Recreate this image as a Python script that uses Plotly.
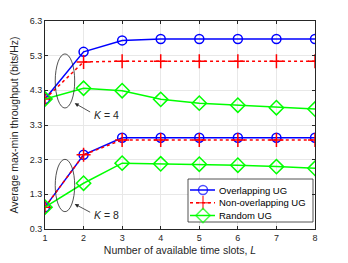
import plotly.graph_objects as go

L = [1, 2, 3, 4, 5, 6, 7, 8]
ov_k4 = [4.05, 5.41, 5.74, 5.78, 5.78, 5.78, 5.78, 5.78]
non_k4 = [4.05, 5.12, 5.14, 5.14, 5.14, 5.14, 5.14, 5.14]
rnd_k4 = [4.05, 4.36, 4.29, 4.04, 3.93, 3.87, 3.80, 3.76]
ov_k8 = [0.93, 2.44, 2.93, 2.93, 2.93, 2.93, 2.93, 2.93]
non_k8 = [0.93, 2.44, 2.87, 2.87, 2.87, 2.87, 2.87, 2.87]
rnd_k8 = [0.93, 1.62, 2.20, 2.18, 2.17, 2.14, 2.10, 2.05]
yticks = [0.3, 1.3, 2.3, 3.3, 4.3, 5.3, 6.3]
names = ["Overlapping UG", "Non-overlapping UG", "Random UG"]

FONT = "Liberation Sans, Arial, Helvetica"
AX = "#262626"
blue, red, green = "#0000FF", "#FF0000", "#00FF00"
styles = [
    dict(color=blue, dash="solid", symbol="circle-open", size=9),
    dict(color=red, dash="dot", symbol="cross-thin-open", size=10),
    dict(color=green, dash="solid", symbol="diamond-open", size=11),
]

fig = go.Figure()
for i, (y4, y8) in enumerate([(ov_k4, ov_k8), (non_k4, non_k8), (rnd_k4, rnd_k8)]):
    s = styles[i]
    for yy in (y4, y8):
        fig.add_trace(go.Scatter(
            x=L, y=yy, mode="lines+markers", name=names[i], showlegend=False,
            line=dict(color=s["color"], width=1.5, dash=s["dash"]),
            marker=dict(symbol=s["symbol"], size=s["size"], color=s["color"],
                        line=dict(color=s["color"], width=1.5)),
        ))

# ellipses around L=1..2
for (y0, y1) in [(3.79, 5.35), (0.80, 2.31)]:
    fig.add_shape(type="circle", xref="x", yref="y", x0=1.265, x1=1.77, y0=y0, y1=y1,
                  line=dict(color=AX, width=0.8))

# K labels with arrows
for txt, hx, hy, tx, ty, lx, ly in [("<i>K</i> = 4", 1.77, 3.93, 2.21, 3.65, 2.23, 3.59),
                                    ("<i>K</i> = 8", 1.77, 1.02, 2.21, 0.76, 2.23, 0.70)]:
    fig.add_annotation(x=hx, y=hy, ax=tx, ay=ty, xref="x", yref="y", axref="x", ayref="y",
                       showarrow=True, arrowhead=2, arrowsize=1, arrowwidth=0.8,
                       arrowcolor=AX, text="")
    fig.add_annotation(x=lx, y=ly, xref="x", yref="y", text=txt, showarrow=False,
                       xanchor="left", yanchor="middle",
                       font=dict(family=FONT, size=10.5, color=AX))

# manual legend on pixel-like overlay axes (x2: 45..315, y2: 229..21)
bx0, bx1, by0, by1 = 188, 313, 179, 222
leg_rows = [190, 202.7, 215.5]
fig.add_trace(go.Scatter(
    x=[bx0, bx1, bx1, bx0, bx0], y=[by0, by0, by1, by1, by0], xaxis="x2", yaxis="y2",
    mode="lines", fill="toself", fillcolor="white", line=dict(color=AX, width=0.8),
    showlegend=False, hoverinfo="skip"))
for i, ry in enumerate(leg_rows):
    s = styles[i]
    fig.add_trace(go.Scatter(
        x=[190, 203, 215], y=[ry, ry, ry], xaxis="x2", yaxis="y2", mode="lines+markers",
        showlegend=False, hoverinfo="skip",
        line=dict(color=s["color"], width=1.5, dash=s["dash"]),
        marker=dict(symbol=s["symbol"], size=[0, s["size"], 0], color=s["color"],
                    line=dict(color=s["color"], width=1.5)),
    ))
    fig.add_annotation(x=217, y=ry, xref="x2", yref="y2", text=names[i], showarrow=False,
                       xanchor="left", yanchor="middle",
                       font=dict(family=FONT, size=9.5, color="#000000"))

axis_common = dict(showline=True, linecolor=AX, linewidth=0.8, mirror="ticks",
                   ticks="inside", ticklen=3, tickcolor=AX, automargin=False,
                   showgrid=True, gridcolor="#E8E8E8", gridwidth=0.8, zeroline=False,
                   tickfont=dict(family=FONT, size=9, color=AX))

# page body has an 8px default margin: figure shrunk by 8px and left/top margins reduced
fig.update_layout(
    width=340, height=255,
    margin=dict(l=37, r=33, t=13, b=34),
    paper_bgcolor="white", plot_bgcolor="white",
    showlegend=False,
    xaxis=dict(range=[1, 8], tickvals=L,
               title=dict(text="Number of available time slots, <i>L</i>", standoff=4,
                          font=dict(family=FONT, size=10.5, color=AX)),
               **axis_common),
    yaxis=dict(range=[0.3, 6.3], tickvals=yticks, ticktext=[f"{v:.1f}" for v in yticks],
               title=dict(text="Average max-min throughput (bits/Hz)", standoff=9,
                          font=dict(family=FONT, size=10.5, color=AX)),
               **axis_common),
    xaxis2=dict(overlaying="x", range=[45, 315], visible=False, fixedrange=True),
    yaxis2=dict(overlaying="y", range=[229, 21], visible=False, fixedrange=True),
)

fig.write_html("out.html")
